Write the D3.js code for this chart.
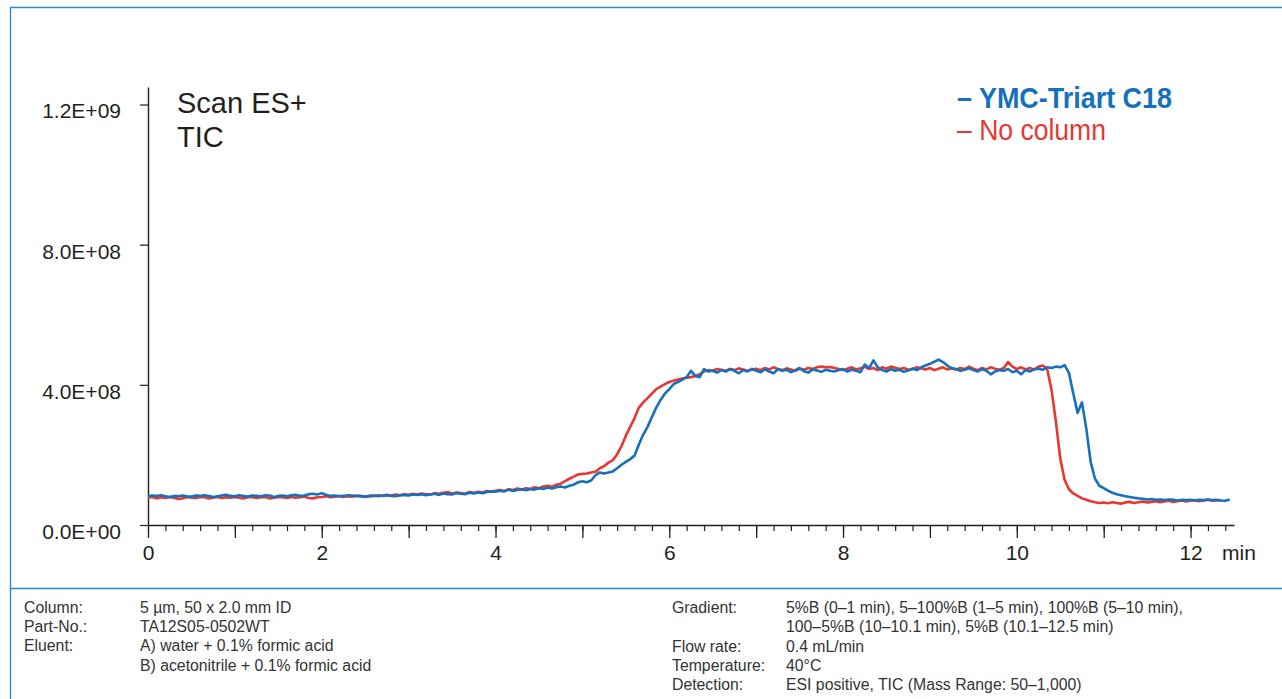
<!DOCTYPE html>
<html>
<head>
<meta charset="utf-8">
<script src="https://cdn.jsdelivr.net/npm/d3@7/dist/d3.min.js"></script>
<style>
  html, body { margin: 0; padding: 0; background: #fff; }
  svg { display: block; }
  text { font-family: Arial, "Liberation Sans", Helvetica, sans-serif; }
</style>
</head>
<body>
<svg id="chart" width="1282" height="699"></svg>
<script>
// ---------------- DATA ----------------
// TIC intensity in units of 1e8 counts, one scan every SCAN_STEP minutes starting at 0 min
const SCAN_STEP = 0.05;
const seriesNames = ["YMC-Triart C18", "No column"];

const ymcTriartC18 = [
  0.82,0.84,0.83,0.85,0.82,0.80,0.83,0.82,0.84,0.82,0.81,0.84,0.83,0.85,0.83,0.80,0.82,0.84,0.86,0.83,
  0.82,0.85,0.83,0.81,0.84,0.83,0.82,0.85,0.84,0.80,0.83,0.84,0.82,0.85,0.86,0.83,0.84,0.88,0.89,0.87,
  0.91,0.86,0.83,0.84,0.82,0.83,0.85,0.84,0.82,0.83,0.81,0.83,0.84,0.82,0.84,0.85,0.83,0.82,0.85,0.86,
  0.84,0.87,0.86,0.88,0.85,0.87,0.89,0.86,0.90,0.88,0.87,0.91,0.89,0.88,0.92,0.90,0.93,0.91,0.94,0.96,
  0.95,0.98,0.96,1.01,0.97,1.00,1.02,0.99,1.03,1.01,1.05,1.03,1.07,1.04,1.08,1.10,1.07,1.12,1.15,1.22,
  1.25,1.22,1.27,1.42,1.50,1.47,1.50,1.53,1.62,1.72,1.80,1.88,1.98,2.30,2.58,2.80,3.08,3.35,3.57,3.75,
  3.88,4.02,4.08,4.15,4.22,4.40,4.25,4.22,4.45,4.38,4.40,4.35,4.42,4.38,4.45,4.40,4.33,4.42,4.38,4.46,
  4.40,4.36,4.44,4.38,4.33,4.45,4.40,4.43,4.36,4.42,4.48,4.39,4.35,4.44,4.41,4.37,4.43,4.40,4.38,4.42,
  4.45,4.38,4.43,4.40,4.36,4.58,4.48,4.70,4.50,4.42,4.38,4.45,4.40,4.43,4.37,4.41,4.46,4.42,4.50,4.55,
  4.60,4.66,4.72,4.65,4.55,4.48,4.45,4.40,4.43,4.47,4.42,4.38,4.45,4.40,4.30,4.38,4.42,4.40,4.45,4.36,
  4.40,4.30,4.42,4.38,4.45,4.46,4.43,4.50,4.48,4.52,4.50,4.56,4.34,3.75,3.20,3.50,2.75,1.80,1.32,1.12,
  1.05,0.98,0.92,0.88,0.85,0.82,0.80,0.78,0.76,0.75,0.73,0.74,0.72,0.73,0.71,0.73,0.72,0.70,0.72,0.71,
  0.72,0.70,0.72,0.71,0.73,0.71,0.72,0.70,0.69,0.73
];

const noColumn = [
  0.78,0.80,0.76,0.79,0.77,0.80,0.78,0.74,0.76,0.80,0.78,0.77,0.80,0.79,0.76,0.78,0.80,0.77,0.79,0.78,
  0.80,0.78,0.76,0.79,0.80,0.77,0.79,0.80,0.76,0.78,0.80,0.79,0.77,0.80,0.78,0.79,0.81,0.77,0.76,0.79,
  0.80,0.82,0.79,0.81,0.83,0.80,0.82,0.81,0.84,0.82,0.80,0.83,0.82,0.85,0.83,0.86,0.84,0.87,0.85,0.88,
  0.86,0.89,0.87,0.90,0.88,0.87,0.91,0.89,0.92,0.94,0.90,0.93,0.91,0.89,0.94,0.92,0.95,0.93,0.97,0.95,
  0.98,1.00,0.97,1.02,1.00,1.04,1.01,1.05,1.03,1.08,1.05,1.10,1.12,1.09,1.15,1.18,1.25,1.32,1.38,1.44,
  1.46,1.47,1.50,1.52,1.62,1.68,1.78,1.85,2.02,2.25,2.55,2.80,3.05,3.35,3.50,3.62,3.75,3.88,3.95,4.02,
  4.08,4.12,4.15,4.18,4.20,4.22,4.25,4.30,4.38,4.42,4.40,4.45,4.43,4.40,4.45,4.42,4.47,4.44,4.40,4.43,
  4.46,4.42,4.48,4.44,4.50,4.45,4.42,4.47,4.44,4.40,4.46,4.43,4.48,4.45,4.50,4.52,4.50,4.51,4.48,4.45,
  4.42,4.46,4.50,4.44,4.47,4.52,4.45,4.48,4.42,4.50,4.46,4.52,4.49,4.45,4.48,4.43,4.45,4.50,4.47,4.44,
  4.48,4.42,4.46,4.50,4.44,4.47,4.43,4.48,4.45,4.52,4.46,4.42,4.48,4.44,4.50,4.46,4.43,4.48,4.65,4.52,
  4.45,4.50,4.44,4.48,4.43,4.52,4.55,4.45,3.85,2.95,1.90,1.29,1.02,0.90,0.83,0.76,0.72,0.68,0.65,0.63,
  0.64,0.62,0.65,0.63,0.61,0.64,0.66,0.63,0.65,0.67,0.64,0.66,0.68,0.65,0.67,0.69,0.66,0.68,0.70,0.67,
  0.69,0.71,0.68,0.70,0.72,0.69,0.70,0.71
];

const yTickValues = [0, 4e8, 8e8, 1.2e9];
const yTickLabels = ["0.0E+00", "4.0E+08", "8.0E+08", "1.2E+09"];
const xLabelValues = [0, 2, 4, 6, 8, 10, 12];
const xUnitLabel = "min";
const titleLines = ["Scan ES+", "TIC"];

const footerLeft = [
  ["Column:", "5 µm, 50 x 2.0 mm ID"],
  ["Part-No.:", "TA12S05-0502WT"],
  ["Eluent:", "A) water + 0.1% formic acid"],
  ["", "B) acetonitrile + 0.1% formic acid"]
];
const footerRight = [
  ["Gradient:", "5%B (0–1 min), 5–100%B (1–5 min), 100%B (5–10 min),"],
  ["", "100–5%B (10–10.1 min), 5%B (10.1–12.5 min)"],
  ["Flow rate:", "0.4 mL/min"],
  ["Temperature:", "40°C"],
  ["Detection:", "ESI positive, TIC (Mass Range: 50–1,000)"]
];

// ---------------- CHART ----------------
const svg = d3.select("#chart");
const BLUE = "#1571bb", RED = "#e8372f", FRAME = "#2a86c9", INK = "#231f20";

// frame
svg.append("path")
  .attr("d", "M10.5,699 V7.5 H1290")
  .attr("fill", "none").attr("stroke", FRAME).attr("stroke-width", 1.3);
svg.append("line").attr("x1", 10).attr("x2", 1282).attr("y1", 588.5).attr("y2", 588.5)
  .attr("stroke", FRAME).attr("stroke-width", 1.3);

const x = d3.scaleLinear().domain([0, 12.5]).range([148, 1234]);
const y = d3.scaleLinear().domain([0, 1.25e9]).range([525, 87]);

// y axis
const yAxis = d3.axisLeft(y).tickValues(yTickValues)
  .tickFormat((d, i) => yTickLabels[i]).tickSize(8).tickPadding(19).tickSizeOuter(0);
const gy = svg.append("g").attr("transform", `translate(${x(0)},0)`).call(yAxis);
gy.select(".domain").attr("stroke", INK).attr("stroke-width", 1.4);
gy.selectAll(".tick line").attr("stroke", INK).attr("stroke-width", 1.2);
gy.selectAll(".tick text").attr("font-size", 21).attr("fill", INK).attr("dy", "0.64em")
  .attr("font-family", "Arial, 'Liberation Sans', sans-serif");

// x axis: minor ticks every 0.2 min, longer on whole minutes
const minorTicks = d3.range(0, 63).map(i => +(i * 0.2).toFixed(1));
const xAxisMinor = d3.axisBottom(x).tickValues(minorTicks).tickFormat("")
  .tickSize(6).tickSizeOuter(0);
const gxm = svg.append("g").attr("transform", `translate(0,${y(0)})`).call(xAxisMinor);
gxm.select(".domain").attr("stroke", INK).attr("stroke-width", 1.4);
gxm.selectAll(".tick line").attr("stroke", INK).attr("stroke-width", 1.2);

const majorTicks = d3.range(0, 13);
const xAxisMajor = d3.axisBottom(x).tickValues(majorTicks)
  .tickFormat(d => xLabelValues.includes(d) ? d : "").tickSize(13).tickPadding(6).tickSizeOuter(0);
const gx = svg.append("g").attr("transform", `translate(0,${y(0)})`).call(xAxisMajor);
gx.select(".domain").remove();
gx.selectAll(".tick line").attr("stroke", INK).attr("stroke-width", 1.3);
gx.selectAll(".tick text").attr("font-size", 21).attr("fill", INK)
  .attr("y", 35).attr("dy", 0)
  .attr("font-family", "Arial, 'Liberation Sans', sans-serif");

svg.append("text").attr("x", 1222).attr("y", 560).attr("font-size", 21).attr("fill", INK)
  .text(xUnitLabel);

// title
titleLines.forEach((t, i) => {
  svg.append("text").attr("x", 177).attr("y", 113 + i * 34)
    .attr("font-size", 29).attr("fill", INK).text(t);
});

// lines
const line = d3.line()
  .x((d, i) => x(i * SCAN_STEP))
  .y(d => y(d * 1e8));

svg.append("path").datum(noColumn)
  .attr("d", line).attr("fill", "none").attr("stroke", RED)
  .attr("stroke-width", 2.6).attr("stroke-linejoin", "round");
svg.append("path").datum(ymcTriartC18)
  .attr("d", line).attr("fill", "none").attr("stroke", BLUE)
  .attr("stroke-width", 2.6).attr("stroke-linejoin", "round");

// legend
svg.append("text").attr("x", 957).attr("y", 108)
  .attr("font-size", 30).attr("font-weight", "bold").attr("fill", BLUE)
  .attr("font-family", "Roboto, Arial, sans-serif")
  .attr("textLength", 215).attr("lengthAdjust", "spacingAndGlyphs")
  .text("– " + seriesNames[0]);
svg.append("text").attr("x", 957).attr("y", 140)
  .attr("font-size", 30).attr("fill", RED)
  .attr("font-family", "Roboto, Arial, sans-serif")
  .attr("textLength", 149).attr("lengthAdjust", "spacingAndGlyphs")
  .text("– " + seriesNames[1]);

// footer
const footerColor = "#333";
const FS = 15.8;
footerLeft.forEach((r, i) => {
  const yy = 613 + i * 19.2;
  svg.append("text").attr("x", 24).attr("y", yy).attr("font-size", FS).attr("fill", footerColor).text(r[0]);
  svg.append("text").attr("x", 140).attr("y", yy).attr("font-size", FS).attr("fill", footerColor).text(r[1]);
});
footerRight.forEach((r, i) => {
  const yy = 613 + i * 19.3;
  svg.append("text").attr("x", 672).attr("y", yy).attr("font-size", FS).attr("fill", footerColor).text(r[0]);
  svg.append("text").attr("x", 786).attr("y", yy).attr("font-size", FS).attr("fill", footerColor).text(r[1]);
});
</script>
</body>
</html>
